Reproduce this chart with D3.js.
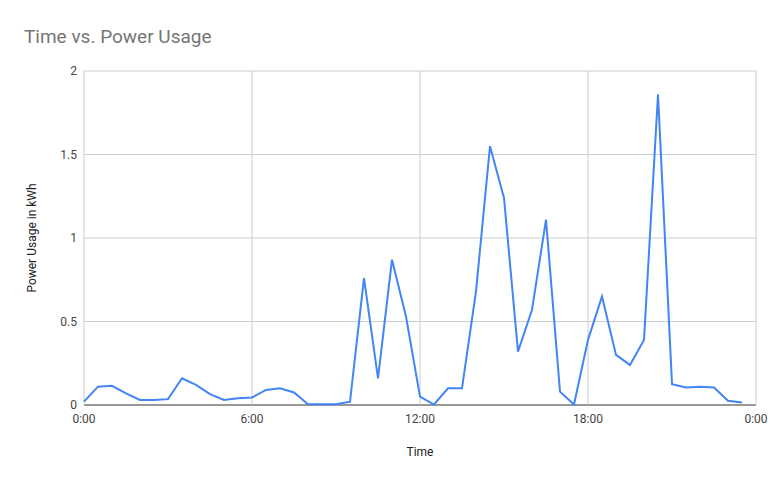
<!DOCTYPE html>
<html>
<head>
<meta charset="utf-8">
<script src="https://cdn.jsdelivr.net/npm/d3@7.9.0/dist/d3.min.js"></script>
<style>
  body { margin: 0; background: #fff; font-family: Roboto, sans-serif; }
</style>
</head>
<body>
<svg width="781" height="483"></svg>
<script>
// half-hour readings, kWh
const usage = [
  0.02, 0.11, 0.115, 0.07, 0.03, 0.03, 0.035, 0.16, 0.12, 0.065, 0.03, 0.04,
  0.045, 0.09, 0.1, 0.075, 0.005, 0.005, 0.005, 0.02, 0.76, 0.16, 0.87, 0.53,
  0.05, 0.003, 0.1, 0.1, 0.68, 1.55, 1.24, 0.32, 0.57, 1.11, 0.08, 0.003,
  0.39, 0.65, 0.3, 0.24, 0.39, 1.86, 0.125, 0.105, 0.11, 0.105, 0.025, 0.015
];
const xTicks = [0, 6, 12, 18, 24];
const xTickLabels = ['0:00', '6:00', '12:00', '18:00', '0:00'];
const yTicks = [0, 0.5, 1, 1.5, 2];

const svg = d3.select('svg');
const x = d3.scaleLinear().domain([0, 24]).range([84, 756]);
const y = d3.scaleLinear().domain([0, 2]).range([405, 71]);

// gridlines
svg.append('g').selectAll('line').data(yTicks).join('line')
  .attr('x1', 84).attr('x2', 756)
  .attr('y1', d => y(d)).attr('y2', d => y(d))
  .attr('stroke', d => d === 0 ? '#333' : '#ccc');
svg.append('g').selectAll('line').data(xTicks).join('line')
  .attr('y1', 71).attr('y2', 405)
  .attr('x1', d => x(d)).attr('x2', d => x(d))
  .attr('stroke', '#ccc');

// tick labels
svg.append('g').selectAll('text').data(yTicks).join('text')
  .attr('x', 77).attr('y', d => y(d) + 4)
  .attr('text-anchor', 'end').attr('font-size', 12).attr('fill', '#444')
  .text(d => d);
svg.append('g').selectAll('text').data(xTicks).join('text')
  .attr('x', d => x(d)).attr('y', 423)
  .attr('text-anchor', 'middle').attr('font-size', 12).attr('fill', '#444')
  .text((d, i) => xTickLabels[i]);

// line
const line = d3.line().x((d, i) => x(i * 0.5)).y(d => y(d));
svg.append('path').datum(usage)
  .attr('d', line).attr('fill', 'none')
  .attr('stroke', '#4285f4').attr('stroke-width', 2);

// titles
svg.append('text').attr('x', 24).attr('y', 43)
  .attr('font-size', 19).attr('fill', '#757575').text('Time vs. Power Usage');
svg.append('text').attr('x', 420).attr('y', 456)
  .attr('text-anchor', 'middle').attr('font-size', 12).attr('fill', '#222').text('Time');
svg.append('text').attr('transform', 'translate(36,238) rotate(-90)')
  .attr('text-anchor', 'middle').attr('font-size', 12).attr('fill', '#222')
  .text('Power Usage in kWh');
</script>
</body>
</html>
